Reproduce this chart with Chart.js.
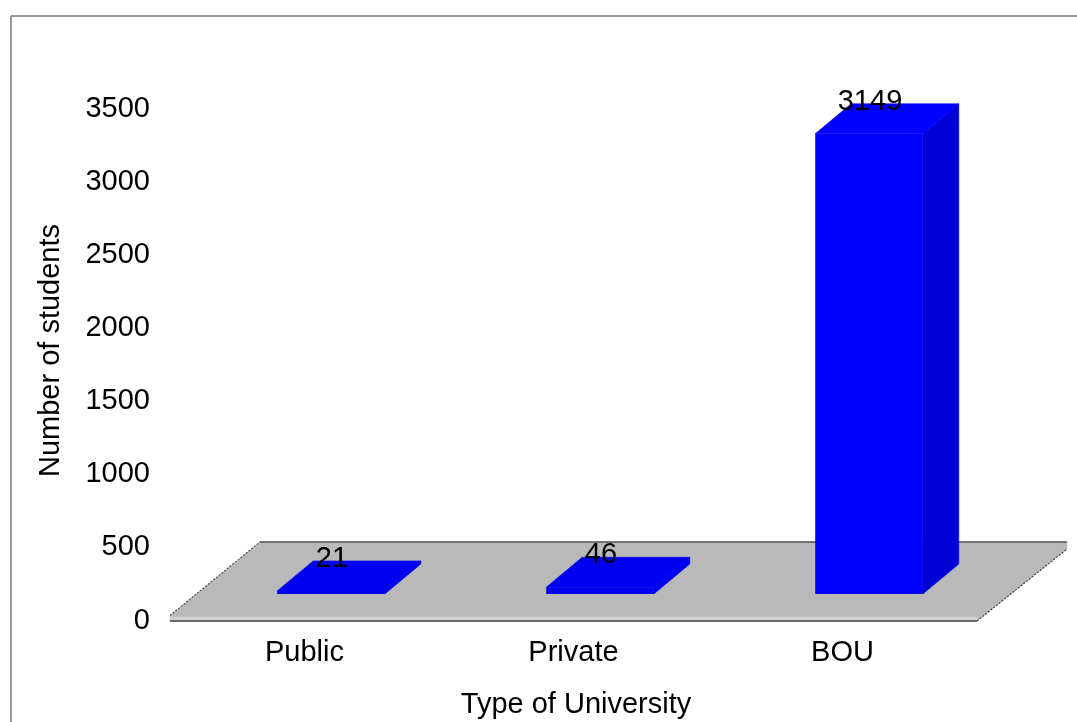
<!DOCTYPE html>
<html>
<head>
<meta charset="utf-8">
<title>Type of University</title>
<script src="https://cdn.jsdelivr.net/npm/chart.js@4"></script>
<style>
  html, body { margin: 0; padding: 0; background: #fff; overflow: hidden; }
  canvas { display: block; }
</style>
</head>
<body>
<canvas id="chart" width="1077" height="722"></canvas>
<script>
// values
const universityTypes = ['Public', 'Private', 'BOU'];
const studentCounts = [21, 46, 3149];
const yTicks = [0, 500, 1000, 1500, 2000, 2500, 3000, 3500];

const FONT = '"Liberation Sans", Arial, sans-serif';
const TEXT_SIZE = 29;

// the bars stand in the middle of the floor, so they are pushed back from the axis plane
const BAR_SHIFT_X = 26.5;
const BAR_SHIFT_Y = -24.5;
const DEPTH_X = 36;
const DEPTH_Y = -30;
// very short bars read as one flat tile in the original
const FLAT_LIMIT = 100;
const FLAT_BLUE = '#0000f0';

function poly(ctx, pts, fill) {
    ctx.beginPath();
    pts.forEach((p, i) => i ? ctx.lineTo(p[0], p[1]) : ctx.moveTo(p[0], p[1]));
    ctx.closePath();
    ctx.fillStyle = fill;
    ctx.fill();
    // closes the hairline between neighbouring faces
    ctx.strokeStyle = fill;
    ctx.lineWidth = 0.6;
    ctx.stroke();
}

function line(ctx, x1, y1, x2, y2, color, width, dash) {
    ctx.beginPath();
    ctx.setLineDash(dash || []);
    ctx.moveTo(x1, y1);
    ctx.lineTo(x2, y2);
    ctx.strokeStyle = color;
    ctx.lineWidth = width;
    ctx.stroke();
    ctx.setLineDash([]);
}

const scene3d = {
    id: 'scene3d',
    beforeDraw(chart) {
        const ctx = chart.ctx;
        // frame, only top and left are inside the picture
        line(ctx, 11, 16, 1077, 16, '#777777', 1.5);
        line(ctx, 11, 16, 11, 722, '#777777', 1.5);
    },
    beforeDatasetsDraw(chart) {
        const ctx = chart.ctx;
        const area = chart.chartArea;
        const l = area.left, r = area.right, base = chart.scales.y.getPixelForValue(0);
        const back = base - 76.5;
        const bl = l + 90, br = r + 90;
        poly(ctx, [[l, base - 3], [bl, back], [br, back], [br, back + 7], [r, base + 2.5], [l, base + 2.5]], '#b9b9b9');
        poly(ctx, [[l, base - 1.5], [r, base - 1.5], [r, base + 2.5], [l, base + 2.5]], '#d0d0d0');
        line(ctx, l, base + 2.5, r, base + 2.5, '#444444', 1.5);
        line(ctx, bl, back, br, back, '#555555', 1.5);
        line(ctx, l, base - 3, bl, back, '#555555', 1.2, [2, 1.5]);
        line(ctx, r, base + 2.5, br, back + 7, '#444444', 1.2, [2, 1.5]);
        ctx.save();
        ctx.translate(BAR_SHIFT_X, BAR_SHIFT_Y);
    },
    afterDatasetsDraw(chart) {
        const ctx = chart.ctx;
        chart.getDatasetMeta(0).data.forEach((bar, i) => {
            const half = bar.width / 2;
            const x1 = bar.x - half, x2 = bar.x + half, top = bar.y, bottom = bar.base;
            const flat = studentCounts[i] < FLAT_LIMIT;
            poly(ctx, [[x2, top], [x2 + DEPTH_X, top + DEPTH_Y], [x2 + DEPTH_X, bottom + DEPTH_Y], [x2, bottom]], flat ? FLAT_BLUE : '#0000d6');
            poly(ctx, [[x1, top], [x1 + DEPTH_X, top + DEPTH_Y], [x2 + DEPTH_X, top + DEPTH_Y], [x2, top]], flat ? FLAT_BLUE : '#0000ff');
        });
        ctx.restore();
    },
    afterDraw(chart) {
        const ctx = chart.ctx;
        ctx.fillStyle = '#000000';
        ctx.font = TEXT_SIZE + 'px ' + FONT;
        ctx.textAlign = 'center';
        ctx.textBaseline = 'middle';
        chart.getDatasetMeta(0).data.forEach((bar, i) => {
            ctx.fillText(String(studentCounts[i]), bar.x + BAR_SHIFT_X + 1, bar.y + BAR_SHIFT_Y - 32);
        });
        // axis titles sit off the centre of the plot area in the original
        ctx.fillText('Type of University', 576, 705);
        ctx.save();
        ctx.translate(51, 350.5);
        ctx.rotate(-Math.PI / 2);
        ctx.fillText('Number of students', 0, 0);
        ctx.restore();
    }
};

new Chart(document.getElementById('chart'), {
    type: 'bar',
    data: {
        labels: universityTypes,
        datasets: [{
            label: 'Number of students',
            data: studentCounts,
            backgroundColor: (c) => (c.raw < FLAT_LIMIT ? FLAT_BLUE : '#0000ff'),
            barPercentage: 0.4,
            categoryPercentage: 1
        }]
    },
    options: {
        responsive: false,
        animation: false,
        layout: { padding: { top: 107, right: 100, bottom: 0, left: 0 } },
        plugins: {
            legend: { display: false },
            tooltip: { enabled: false }
        },
        scales: {
            x: {
                grid: { display: false, drawTicks: false },
                border: { display: false },
                ticks: {
                    color: '#000000',
                    font: { family: FONT, size: TEXT_SIZE },
                    padding: 17,
                    maxRotation: 0
                },
                afterFit(scale) { scale.height = 103.5; }
            },
            y: {
                min: 0,
                max: 3500,
                afterBuildTicks(scale) { scale.ticks = yTicks.map((v) => ({ value: v })); },
                grid: { display: false, drawTicks: false },
                border: { display: false },
                ticks: {
                    color: '#000000',
                    font: { family: FONT, size: TEXT_SIZE },
                    padding: 20,
                    labelOffset: 2,
                    callback: (v) => String(v)
                },
                afterFit(scale) { scale.width = 170; }
            }
        }
    },
    plugins: [scene3d]
});
</script>
</body>
</html>
